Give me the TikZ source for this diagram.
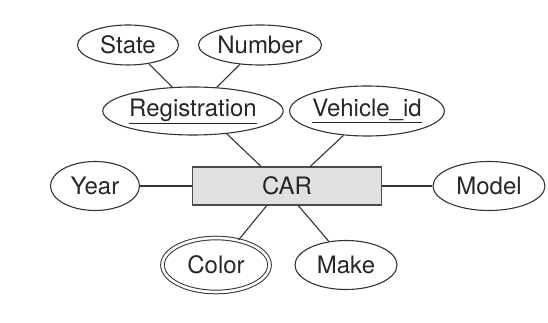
\documentclass[tikz,border=0pt]{standalone}
\usepackage{fontspec}
\setmainfont{TeX Gyre Heros}
\usetikzlibrary{shapes.geometric}
\begin{document}
\begin{tikzpicture}[x=1pt, y=1pt,
        every node/.style={font=\fontsize{24}{28}\selectfont, text=black!85, inner sep=0pt},
        attr/.style={ellipse, draw=black!80, line width=1.1pt},
        multi/.style={attr, double, double distance=2.6pt, line width=1pt},
        entity/.style={rectangle, draw=black!70, line width=1.1pt, fill=black!12},
        link/.style={draw=black!80, line width=1.1pt}]
    \useasboundingbox (0,0) rectangle (548,323);
    \node[entity, minimum width=189, minimum height=38] (car) at (287,137) {CAR};
    \node[attr, minimum width=101, minimum height=40] (state) at (128,278) {State};
    \node[attr, minimum width=123, minimum height=40] (number) at (260,278) {Number};
    \node[attr, minimum width=169, minimum height=48] (reg) at (193,212) {\underline{Registration}};
    \node[attr, minimum width=151, minimum height=50] (veh) at (367,212) {\underline{Vehicle\_id}};
    \node[attr, minimum width=89, minimum height=49] (year) at (95,137) {Year};
    \node[attr, minimum width=112, minimum height=49] (model) at (489,137) {Model};
    \node[multi, minimum width=107, minimum height=54] (color) at (216,58) {Color};
    \node[attr, minimum width=102, minimum height=49] (make) at (346,58) {Make};
    \draw[link] (state.-42) -- (reg.131);
    \draw[link] (number.224) -- (reg.45);
    \draw[link] (reg.-34) -- (car.143.5);
    \draw[link] (veh.226) -- (car.40);
    \draw[link] (year) -- (car);
    \draw[link] (car) -- (model);
    \draw[link] (car.224) -- (color.48);
    \draw[link] (car.300) -- (make.126);
\end{tikzpicture}
\end{document}
